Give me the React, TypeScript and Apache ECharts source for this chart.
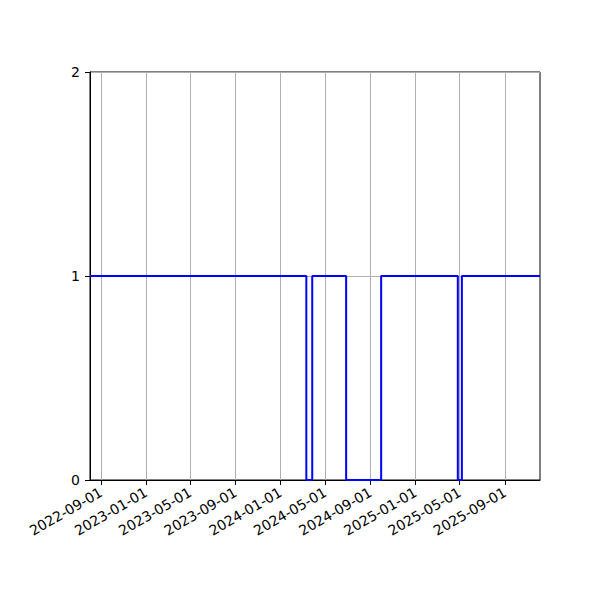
import React, { useEffect, useRef } from "react";
import * as echarts from "echarts";

// change points of the step line (value holds until the next date)
const stepDates = [
  "2022-08-02",
  "2024-03-11",
  "2024-03-27",
  "2024-06-27",
  "2024-09-30",
  "2025-04-26",
  "2025-05-07",
  "2025-12-05",
];
const stepValues = [1, 0, 1, 0, 1, 0, 1, 1];

const xTicks = [
  "2022-09-01",
  "2023-01-01",
  "2023-05-01",
  "2023-09-01",
  "2024-01-01",
  "2024-05-01",
  "2024-09-01",
  "2025-01-01",
  "2025-05-01",
  "2025-09-01",
];
const yTicks = [0, 1, 2];

const FONT = "DejaVu Sans";

const toTime = (d: string) => echarts.time.parse(d).getTime();

const App: React.FC = () => {
  const chartRef = useRef<HTMLDivElement>(null);

  useEffect(() => {
    if (!chartRef.current) return;
    const chart = echarts.init(chartRef.current, undefined, { renderer: "svg" });

    const tickTimes = xTicks.map(toTime);

    chart.setOption({
      animation: false,
      backgroundColor: "#ffffff",
      textStyle: { fontFamily: FONT },
      grid: { left: 90, right: 60, top: 72, bottom: 120, show: true, borderColor: "#000", borderWidth: 1 },
      xAxis: {
        type: "value",
        min: toTime(stepDates[0]),
        max: toTime(stepDates[stepDates.length - 1]),
        axisLine: { show: true, onZero: false, lineStyle: { color: "#000", width: 1 } },
        axisTick: { show: true, customValues: tickTimes, length: 5, lineStyle: { color: "#000" } },
        axisLabel: {
          customValues: tickTimes,
          rotate: 30,
          fontSize: 14,
          color: "#000",
          fontFamily: FONT,
          margin: 11,
          formatter: (v: number) => echarts.time.format(v, "{yyyy}-{MM}-{dd}", false),
        },
        splitLine: { show: false },
      },
      yAxis: {
        type: "value",
        min: 0,
        max: 2,
        interval: 1,
        axisLine: { show: true, lineStyle: { color: "#000", width: 1 } },
        axisTick: { show: true, length: 5, lineStyle: { color: "#000" } },
        axisLabel: {
          fontSize: 14,
          color: "#000",
          fontFamily: FONT,
          margin: 10,
          formatter: (v: number) => (yTicks.includes(v) ? String(v) : ""),
        },
        splitLine: { show: true, lineStyle: { color: "#b0b0b0", width: 1 } },
      },
      series: [
        {
          type: "line",
          step: "end",
          symbol: "none",
          data: stepDates.map((d, i) => [toTime(d), stepValues[i]]),
          lineStyle: { color: "#0000ff", width: 2 },
          markLine: {
            silent: true,
            symbol: "none",
            label: { show: false },
            lineStyle: { color: "#b0b0b0", width: 1, type: "solid" },
            data: tickTimes.map((t) => ({ xAxis: t })),
            z: 0,
          },
        },
      ],
    });

    return () => chart.dispose();
  }, []);

  return (
    <div
      ref={chartRef}
      style={{ position: "fixed", left: 0, top: 0, width: 600, height: 600 }}
    />
  );
};

export default App;
